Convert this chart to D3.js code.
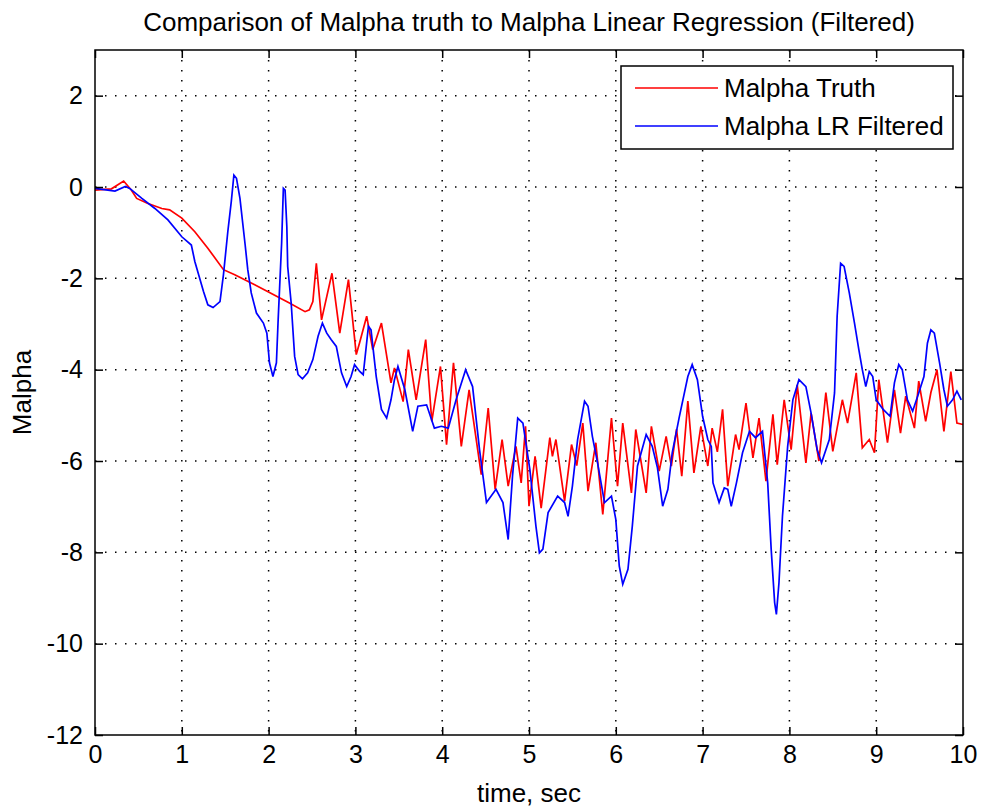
<!DOCTYPE html>
<meta charset="utf-8">
<style>

body {
  margin: 0;
  background: #fff;
}

text {
  font-family: "Liberation Sans", Arial, Helvetica, sans-serif;
  fill: #000;
}

.grid line {
  stroke: #000;
  stroke-width: 1.5;
  stroke-dasharray: 1.5, 8.5;
}

.line {
  fill: none;
  stroke-width: 1.7;
}

</style>
<svg width="981" height="811"></svg>
<script src="https://d3js.org/d3.v7.min.js"></script>
<script>

var chartTitle = "Comparison of Malpha truth to Malpha Linear Regression (Filtered)";
var xTicks = [0, 1, 2, 3, 4, 5, 6, 7, 8, 9, 10];
var yTicks = [-12, -10, -8, -6, -4, -2, 0, 2];
var seriesNames = ["Malpha Truth", "Malpha LR Filtered"];
var seriesColors = ["#ff0000", "#0000ff"];

// [time, value]
var truth = [
  [0, -0.07], [0.19, -0.04], [0.33, 0.13], [0.42, -0.07], [0.48, -0.25], [0.61, -0.36],
  [0.77, -0.47], [0.86, -0.5], [1.0, -0.68], [1.15, -0.98], [1.3, -1.34], [1.48, -1.81],
  [1.61, -1.92], [1.84, -2.14], [2.24, -2.54], [2.42, -2.73], [2.47, -2.69], [2.51, -2.51],
  [2.55, -1.67], [2.61, -2.91], [2.73, -1.89], [2.82, -3.2], [2.92, -2.03], [3.01, -3.67],
  [3.05, -3.4], [3.13, -2.83], [3.2, -3.56], [3.3, -2.98], [3.41, -4.29], [3.45, -3.96],
  [3.55, -4.7], [3.61, -3.56], [3.7, -4.66], [3.81, -3.34], [3.88, -5.13], [3.98, -3.93],
  [4.05, -5.64], [4.13, -3.85], [4.22, -5.68], [4.31, -4.44], [4.45, -6.3], [4.53, -4.84],
  [4.61, -6.62], [4.69, -5.53], [4.76, -6.55], [4.85, -5.68], [4.91, -6.48], [4.96, -5.24],
  [5.0, -6.99], [5.07, -5.9], [5.14, -7.03], [5.24, -5.49], [5.27, -5.9], [5.31, -5.53],
  [5.41, -6.88], [5.49, -5.64], [5.55, -6.1], [5.62, -5.17], [5.68, -6.66], [5.77, -5.6],
  [5.85, -7.17], [5.95, -5.06], [6.02, -6.55], [6.08, -5.17], [6.18, -6.7], [6.23, -5.31],
  [6.35, -6.7], [6.41, -5.24], [6.5, -6.22], [6.58, -5.46], [6.64, -6.11], [6.7, -5.3],
  [6.76, -6.33], [6.83, -4.69], [6.9, -6.26], [6.98, -5.24], [7.06, -6.11], [7.11, -5.28],
  [7.17, -5.8], [7.23, -4.87], [7.29, -6.55], [7.38, -5.42], [7.42, -5.75], [7.5, -4.73],
  [7.58, -5.93], [7.65, -5.06], [7.73, -6.44], [7.81, -4.98], [7.86, -6.08], [7.94, -4.66],
  [8.02, -5.75], [8.09, -4.33], [8.19, -6.04], [8.25, -4.95], [8.34, -6.0], [8.42, -4.5],
  [8.5, -5.79], [8.61, -4.66], [8.67, -5.17], [8.77, -4.07], [8.84, -5.71], [8.92, -5.53],
  [8.98, -5.82], [9.03, -4.22], [9.13, -5.6], [9.21, -4.44], [9.28, -5.39], [9.34, -4.58],
  [9.44, -5.28], [9.49, -4.25], [9.57, -5.13], [9.63, -4.5], [9.7, -4.0], [9.78, -5.35],
  [9.86, -4.04], [9.93, -5.17], [10.0, -5.2]
];

var filtered = [
  [0, -0.03], [0.23, -0.09], [0.35, 0.01], [0.4, -0.03], [0.54, -0.25], [0.69, -0.47],
  [0.84, -0.72], [1.0, -1.09], [1.11, -1.27], [1.15, -1.63], [1.25, -2.29], [1.3, -2.58],
  [1.36, -2.64], [1.44, -2.51], [1.48, -1.92], [1.53, -0.98], [1.57, -0.32], [1.6, 0.26],
  [1.63, 0.19], [1.67, -0.25], [1.73, -1.27], [1.76, -1.81], [1.8, -2.32], [1.86, -2.76],
  [1.94, -2.98], [1.98, -3.2], [2.01, -3.85], [2.05, -4.15], [2.09, -3.85], [2.11, -2.91],
  [2.15, -1.23], [2.17, -0.03], [2.19, -0.07], [2.21, -0.87], [2.22, -1.74], [2.26, -2.54],
  [2.3, -3.71], [2.34, -4.11], [2.39, -4.2], [2.45, -4.07], [2.51, -3.78], [2.57, -3.27],
  [2.62, -2.98], [2.67, -3.2], [2.72, -3.34], [2.78, -3.49], [2.84, -4.07], [2.9, -4.37],
  [2.95, -4.15], [2.99, -3.89], [3.05, -4.04], [3.09, -4.11], [3.15, -3.05], [3.18, -3.13],
  [3.24, -4.15], [3.3, -4.87], [3.36, -5.06], [3.41, -4.66], [3.45, -4.22], [3.49, -3.93],
  [3.57, -4.44], [3.66, -5.35], [3.72, -4.8], [3.82, -4.77], [3.91, -5.28], [3.99, -5.24],
  [4.07, -5.28], [4.16, -4.66], [4.27, -4.0], [4.35, -4.37], [4.43, -5.75], [4.51, -6.91],
  [4.62, -6.62], [4.7, -6.91], [4.76, -7.72], [4.81, -6.33], [4.87, -5.06], [4.93, -5.17],
  [5.01, -6.19], [5.08, -7.43], [5.12, -8.01], [5.16, -7.93], [5.22, -7.13], [5.33, -6.77],
  [5.41, -6.91], [5.45, -7.21], [5.5, -6.55], [5.56, -5.53], [5.64, -4.69], [5.68, -4.8],
  [5.73, -5.46], [5.79, -6.04], [5.87, -6.91], [5.95, -6.77], [6.0, -7.28], [6.04, -8.3],
  [6.08, -8.7], [6.14, -8.37], [6.19, -7.43], [6.25, -6.11], [6.35, -5.42], [6.42, -5.68],
  [6.48, -6.15], [6.54, -6.99], [6.6, -6.62], [6.65, -5.82], [6.73, -5.05], [6.83, -4.15],
  [6.88, -3.89], [6.94, -4.22], [7.0, -5.02], [7.06, -5.53], [7.1, -5.68], [7.12, -6.48],
  [7.19, -6.91], [7.25, -6.59], [7.29, -6.62], [7.33, -6.99], [7.39, -6.48], [7.46, -5.82],
  [7.54, -5.35], [7.61, -5.49], [7.69, -5.35], [7.75, -6.48], [7.79, -7.93], [7.83, -9.1],
  [7.85, -9.36], [7.88, -8.66], [7.92, -7.21], [7.98, -5.68], [8.04, -4.66], [8.11, -4.22],
  [8.19, -4.37], [8.25, -4.95], [8.32, -5.75], [8.37, -6.04], [8.46, -5.53], [8.52, -4.51],
  [8.55, -2.83], [8.59, -1.67], [8.63, -1.74], [8.69, -2.32], [8.75, -2.98], [8.8, -3.56],
  [8.84, -4.0], [8.88, -4.37], [8.92, -4.04], [8.96, -4.15], [9.0, -4.66], [9.08, -4.87],
  [9.16, -5.02], [9.21, -4.29], [9.26, -3.89], [9.3, -4.0], [9.36, -4.66], [9.42, -4.91],
  [9.49, -4.51], [9.55, -4.15], [9.59, -3.42], [9.63, -3.13], [9.67, -3.2], [9.73, -3.85],
  [9.78, -4.44], [9.82, -4.8], [9.88, -4.66], [9.93, -4.47], [9.98, -4.66]
];

var svg = d3.select("svg"),
    margin = {top: 50, right: 18, bottom: 76, left: 95},
    width = +svg.attr("width") - margin.left - margin.right,
    height = +svg.attr("height") - margin.top - margin.bottom,
    g = svg.append("g").attr("transform", "translate(" + margin.left + "," + margin.top + ")");

var x = d3.scaleLinear().domain([0, 10]).range([0, width]);
var y = d3.scaleLinear().domain([-12, 3]).range([height, 0]);

// plain hyphen for negatives, the way matlab prints them
var fmt = function(d) { return String(d); };

// dotted grid
g.append("g").attr("class", "grid")
  .selectAll("line").data(xTicks.slice(1, -1)).enter().append("line")
    .attr("x1", x).attr("x2", x)
    .attr("y1", 0).attr("y2", height);
g.append("g").attr("class", "grid")
  .selectAll("line").data(yTicks.slice(1)).enter().append("line")
    .attr("y1", y).attr("y2", y)
    .attr("x1", 0).attr("x2", width);

var line = d3.line()
    .x(function(d) { return x(d[0]); })
    .y(function(d) { return y(d[1]); });

g.append("path").datum(truth)
    .attr("class", "line")
    .attr("stroke", seriesColors[0])
    .attr("d", line);
g.append("path").datum(filtered)
    .attr("class", "line")
    .attr("stroke", seriesColors[1])
    .attr("d", line);

// axes, ticks pointing inward like matlab
var tickSize = 8;
g.append("g")
    .attr("transform", "translate(0," + height + ")")
    .call(d3.axisBottom(x).tickValues(xTicks).tickSizeInner(-tickSize).tickSizeOuter(0).tickPadding(10).tickFormat(fmt));
g.append("g")
    .call(d3.axisTop(x).tickValues(xTicks).tickSizeInner(-tickSize).tickSizeOuter(0).tickFormat(""));
g.append("g")
    .call(d3.axisLeft(y).tickValues(yTicks).tickSizeInner(-tickSize).tickSizeOuter(0).tickPadding(12).tickFormat(fmt));
g.append("g")
    .attr("transform", "translate(" + width + ",0)")
    .call(d3.axisRight(y).tickValues(yTicks).tickSizeInner(-tickSize).tickSizeOuter(0).tickFormat(""));

g.selectAll(".domain").remove();
g.selectAll(".tick line").attr("stroke", "#000").attr("stroke-width", 1.5);
g.selectAll(".tick text").attr("font-size", 25).attr("font-family", null);

g.append("rect")
    .attr("width", width).attr("height", height)
    .attr("fill", "none").attr("stroke", "#000").attr("stroke-width", 1.5);

// labels
svg.append("text")
    .attr("x", margin.left + width / 2).attr("y", 31)
    .attr("text-anchor", "middle").attr("font-size", 26)
    .text(chartTitle);
svg.append("text")
    .attr("x", margin.left + width / 2).attr("y", 802)
    .attr("text-anchor", "middle").attr("font-size", 26)
    .text("time, sec");
svg.append("text")
    .attr("transform", "translate(31," + (margin.top + height / 2) + ")rotate(-90)")
    .attr("text-anchor", "middle").attr("font-size", 26)
    .text("Malpha");

// legend
var legend = svg.append("g").attr("transform", "translate(621,66)");
legend.append("rect")
    .attr("width", 332).attr("height", 83)
    .attr("fill", "#fff").attr("stroke", "#000").attr("stroke-width", 1.5);
var item = legend.selectAll(".item").data(seriesNames).enter().append("g")
    .attr("transform", function(d, i) { return "translate(0," + (22 + i * 38) + ")"; });
item.append("line")
    .attr("x1", 14).attr("x2", 97)
    .attr("stroke", function(d, i) { return seriesColors[i]; })
    .attr("stroke-width", 1.7);
item.append("text")
    .attr("x", 103).attr("dy", "0.35em")
    .attr("font-size", 26)
    .text(function(d) { return d; });

</script>
